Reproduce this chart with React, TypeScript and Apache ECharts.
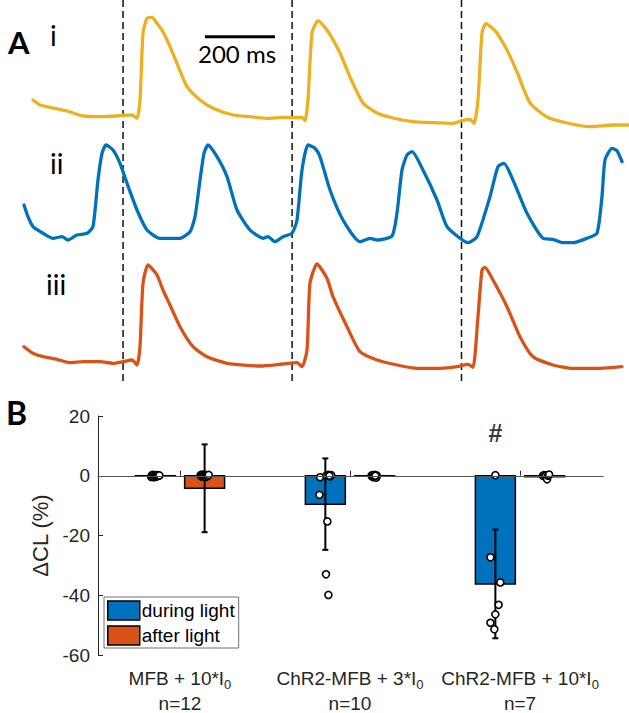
import React, { useEffect, useRef } from "react";
import * as echarts from "echarts";

// ---------- Panel A: optical traces (time in ms, amplitude in a.u.) ----------
const traceI: [number, number][] = [
  [25.7, 30], [45.7, 25], [74.3, 22.7], [122.9, 19], [168.6, 14], [217, 13.3], [265.7, 14],
  [282.9, 14.7], [308.6, 15], [322.9, 11.7], [331.4, 30], [340, 97], [351.4, 111.7],
  [365.7, 112.7], [380, 106.7], [397.1, 98.3], [417.1, 83.3], [437.1, 66.7], [465.7, 43.3],
  [502.9, 30], [540, 21.7], [597.1, 15], [645.7, 13.3], [694.3, 11.7], [740, 12.7],
  [765.7, 12.3], [794.3, 12.7], [802.9, 9.3], [811.4, 30], [822.9, 97], [840, 109.3],
  [865.7, 100], [902.9, 77], [931.4, 53], [968.6, 27], [1008.6, 17], [1054.3, 12],
  [1111.4, 8.3], [1168.6, 7.3], [1225.7, 6.7], [1251.4, 9.3], [1274.3, 10.7], [1285.7, 6.7],
  [1297.1, 30], [1308.6, 97], [1320, 106.7], [1337.1, 102], [1351.4, 97], [1380, 80],
  [1408.6, 58], [1445.7, 27], [1494.3, 13], [1551.4, 7], [1617.1, 3.3], [1682.9, 5], [1725.7, 5],
];

const traceII: [number, number][] = [
  [0, 55], [11.4, 43.3], [25.7, 33.3], [54.3, 26.7], [82.9, 21.7], [108.6, 23.3], [125.7, 20],
  [151.4, 25], [180, 26.7], [197.1, 33.3], [211.4, 80], [222.9, 106.7], [234.3, 115],
  [254.3, 110], [274.3, 96.7], [294.3, 76.7], [322.9, 50], [351.4, 30], [388.6, 21.7],
  [445.7, 21.7], [474.3, 28.3], [488.6, 43.3], [502.9, 80], [514.3, 106.7], [525.7, 115],
  [551.4, 103.3], [580, 83.3], [608.6, 50], [645.7, 30], [682.9, 21.7], [697.1, 23.3],
  [717.1, 18.3], [740, 23.3], [765.7, 26.7], [780, 40], [794.3, 90], [811.4, 115],
  [831.4, 111.7], [845.7, 103.3], [874.3, 70], [911.4, 40], [960, 18.3], [988.6, 21.7],
  [1008.6, 20], [1051.4, 24], [1065.7, 47], [1080, 90], [1094.3, 105], [1108.6, 108.3],
  [1140, 90], [1180, 60], [1208.6, 33.3], [1245.7, 21.7], [1268.6, 17.3], [1294.3, 23.3],
  [1331.4, 63.3], [1354.3, 93.3], [1371.4, 96.7], [1397.1, 80], [1437.1, 46.7],
  [1482.9, 21.7], [1511.4, 20.7], [1540, 17.3], [1568.6, 17.3], [1608.6, 21.7],
  [1637.1, 26.7], [1651.4, 63.3], [1660, 100], [1680, 111.7], [1694.3, 109.3], [1708.6, 98.3],
];

const traceIII: [number, number][] = [
  [0, 43.3], [25.7, 36.7], [54.3, 33.3], [94.3, 30.7], [131.4, 27.3], [168.6, 28.3],
  [217.1, 28.3], [254.3, 26.7], [282.9, 28.3], [308.6, 30], [322.9, 25], [331.4, 43.3],
  [340, 106.7], [354.3, 125], [380, 115], [397.1, 100], [417.1, 85], [445.7, 63.3],
  [482.9, 43.3], [522.9, 33.3], [580, 26.7], [674.3, 24], [740, 26], [780, 27.3],
  [794.3, 23.3], [808.6, 40], [817.1, 106.7], [837.1, 126], [865.7, 111.7], [882.9, 93.3],
  [922.9, 63.3], [960, 38.3], [1008.6, 30], [1065.7, 25], [1122.9, 21.7], [1188.6, 21.7],
  [1237.1, 23.3], [1268.6, 25.7], [1282.9, 22.7], [1297.1, 73.3], [1308.6, 120],
  [1317.1, 122.7], [1340, 110], [1380, 83.3], [1417.1, 53.3], [1454.3, 33.3], [1511.4, 25],
  [1568.6, 21.7], [1645.7, 21.7], [1708.6, 23.3],
];

const stimTimes = [283, 766, 1250];
const scaleBar: [number, number][] = [[517, 93.3], [717, 93.3]];
const T_MAX = 1728.6;

// ---------- Panel B: ΔCL (%) ----------
const groupLabels = ["MFB + 10*I", "ChR2-MFB + 3*I", "ChR2-MFB + 10*I"];
const groupN = ["n=12", "n=10", "n=7"];
const duringMean = [-0.2, -9.5, -36.2];
const duringSD = [0.6, 15.3, 18.2];
const afterMean = [-4.2, -0.2, -0.3];
const afterSD = [14.7, 0.4, 0.5];

const duringJx = [
  [-0.024, -0.02, -0.016, -0.012, -0.008, -0.004, 0, 0.004, 0.008, 0.012, 0.018, 0.024],
  [-0.031, 0.006, 0.018, 0.029, 0.035, 0.024, -0.035, 0.012, 0.004, 0.018],
  [0, -0.029, 0.029, 0.019, 0, -0.029, -0.006],
];
const duringPts = [
  [-0.4, 0.2, -0.1, 0.3, -0.5, 0, 0.1, -0.3, 0.2, -0.2, 0, 0.1],
  [-0.5, 0.1, 0.3, -0.2, 0.2, 0, -6.4, -15.3, -33, -39.9],
  [0.2, -27.3, -35.7, -43.2, -46.4, -49.2, -51.4],
];
const afterJx = [
  [-0.024, -0.018, -0.014, -0.01, -0.006, -0.002, 0.002, 0.006, 0.01, 0.014, 0.018, 0.024],
  [-0.018, -0.014, -0.01, -0.006, -0.002, 0.002, 0.006, 0.01, 0.012, 0.004],
  [-0.01, -0.004, 0.002, 0.008, 0.014, 0.02, 0.026],
];
const afterPts = [
  [0.2, -0.3, 0.4, 0, -0.2, 0.3, 0.1, -0.4, 0.2, 0, -0.1, 0.3],
  [0.1, -0.3, 0.2, -0.5, 0, 0.3, -0.2, -0.6, 0.1, 0],
  [0, 0.2, -0.3, 0.1, -1.2, 0, 0.4],
];
const hashMark = { group: 3, value: 14.4, text: "#" };

const BLUE = "#0072BD";
const ORANGE = "#D95319";
const YELLOW = "#EDB120";
const AX = "#262626";
const OFF = 0.145;
const BAR_W = 0.235;
const FONT_B = "'Liberation Sans', Arial, sans-serif";
const FONT_A = "Lato, 'Open Sans', sans-serif";

function barSeries(name: string, color: string, means: number[], side: number) {
  return {
    type: "custom",
    name,
    xAxisIndex: 4,
    yAxisIndex: 4,
    itemStyle: { color, borderColor: "#000", borderWidth: 1.5 },
    data: means.map((m, i) => [i + 1 + side * OFF, m]),
    renderItem: (_p: any, api: any) => {
      const x = api.value(0);
      const v = api.value(1);
      const a = api.coord([x - BAR_W / 2, 0]);
      const b = api.coord([x + BAR_W / 2, v]);
      return {
        type: "rect",
        shape: {
          x: a[0],
          y: Math.min(a[1], b[1]),
          width: b[0] - a[0],
          height: Math.max(Math.abs(b[1] - a[1]), 0.01),
        },
        style: { fill: color, stroke: "#000", lineWidth: 1.5 },
      };
    },
  };
}

export default function App() {
  const ref = useRef<HTMLDivElement>(null);
  useEffect(() => {
    if (!ref.current) return;
    const chart = echarts.init(ref.current, undefined, { renderer: "svg" });

    const errData: number[][] = [];
    duringMean.forEach((m, i) => errData.push([i + 1 - OFF, m, duringSD[i]]));
    afterMean.forEach((m, i) => errData.push([i + 1 + OFF, m, afterSD[i]]));

    const ptData: number[][] = [];
    duringPts.forEach((arr, g) =>
      arr.forEach((v, k) => ptData.push([g + 1 - OFF + duringJx[g][k], v]))
    );
    afterPts.forEach((arr, g) =>
      arr.forEach((v, k) => ptData.push([g + 1 + OFF + afterJx[g][k], v]))
    );

    const traceGrid = (top: number, height: number) => ({
      left: 24,
      top,
      width: 605,
      height,
      containLabel: false,
    });
    const hiddenX = (gi: number) => ({
      type: "value",
      gridIndex: gi,
      min: 0,
      max: T_MAX,
      show: false,
    });
    const hiddenY = (gi: number, max: number) => ({
      type: "value",
      gridIndex: gi,
      min: 0,
      max,
      show: false,
    });
    const traceLine = (data: [number, number][], color: string, idx: number) => ({
      type: "line",
      xAxisIndex: idx,
      yAxisIndex: idx,
      data,
      showSymbol: false,
      symbol: "none",
      smooth: 0.2,
      lineStyle: { color, width: 3.3, cap: "round", join: "round" },
      silent: true,
    });

    const option: any = {
      animation: false,
      backgroundColor: "#fff",
      grid: [
        traceGrid(0, 130),
        traceGrid(130, 130),
        traceGrid(260, 130),
        traceGrid(0, 385),
        { left: 98, top: 416, width: 505, height: 240, containLabel: false },
      ],
      xAxis: [
        hiddenX(0),
        hiddenX(1),
        hiddenX(2),
        hiddenX(3),
        {
          type: "value",
          gridIndex: 4,
          min: 0.518,
          max: 3.488,
          axisLine: { show: true, lineStyle: { color: AX, width: 1 } },
          axisTick: {
            show: true,
            inside: true,
            length: 5,
            customValues: [1, 2, 3],
            lineStyle: { color: AX },
          },
          splitLine: { show: false },
          axisLabel: {
            show: true,
            customValues: [1, 2, 3],
            margin: 11,
            formatter: (v: number) => {
              const i = Math.round(v) - 1;
              return `{a|${groupLabels[i]}}{s|0}\n{n|${groupN[i]}}`;
            },
            rich: {
              a: { fontSize: 19, fontFamily: FONT_B, color: AX, lineHeight: 25 },
              s: { fontSize: 13, fontFamily: FONT_B, color: AX, verticalAlign: "bottom" },
              n: { fontSize: 19, fontFamily: FONT_B, color: AX, lineHeight: 25 },
            },
          },
        },
      ],
      yAxis: [
        hiddenY(0, 130),
        hiddenY(1, 130),
        hiddenY(2, 130),
        hiddenY(3, 1),
        {
          type: "value",
          gridIndex: 4,
          min: -60,
          max: 20,
          interval: 20,
          axisLine: { show: true, lineStyle: { color: AX, width: 1 } },
          axisTick: { show: true, inside: true, length: 5, lineStyle: { color: AX } },
          splitLine: { show: false },
          axisLabel: { fontSize: 19, fontFamily: FONT_B, color: AX, margin: 8 },
          name: "ΔCL (%)",
          nameLocation: "middle",
          nameGap: 42,
          nameTextStyle: { fontSize: 22, fontFamily: FONT_B, color: AX },
        },
      ],
      legend: {
        show: true,
        orient: "vertical",
        left: 104,
        top: 597,
        data: [
          { name: "during light", icon: "rect" },
          { name: "after light", icon: "rect" },
        ],
        itemWidth: 32,
        itemHeight: 19,
        itemGap: 4,
        padding: [3, 4, 2, 3],
        borderColor: "#707070",
        borderWidth: 1,
        backgroundColor: "#fff",
        itemStyle: { borderColor: "#000", borderWidth: 1.5 },
        textStyle: { fontSize: 19, fontFamily: FONT_B, color: "#000", lineHeight: 21, padding: [0, 0, 0, -3] },
        selectedMode: false,
      },
      series: [
        traceLine(traceI, YELLOW, 0),
        {
          type: "line",
          xAxisIndex: 0,
          yAxisIndex: 0,
          data: scaleBar,
          symbol: "none",
          lineStyle: { color: "#000", width: 3 },
          silent: true,
        },
        traceLine(traceII, BLUE, 1),
        traceLine(traceIII, ORANGE, 2),
        {
          type: "custom",
          xAxisIndex: 3,
          yAxisIndex: 3,
          data: stimTimes.map((t) => [t]),
          silent: true,
          renderItem: (_p: any, api: any) => {
            const t = api.value(0);
            const a = api.coord([t, 1]);
            const b = api.coord([t, 0]);
            return {
              type: "line",
              shape: { x1: a[0], y1: a[1], x2: b[0], y2: b[1] },
              style: { stroke: "#111", lineWidth: 1.5, lineDash: [7, 4] },
            };
          },
        },
        barSeries("during light", BLUE, duringMean, -1),
        barSeries("after light", ORANGE, afterMean, 1),
        {
          type: "custom",
          xAxisIndex: 4,
          yAxisIndex: 4,
          data: errData,
          silent: true,
          renderItem: (_p: any, api: any) => {
            const x = api.value(0);
            const m = api.value(1);
            const s = api.value(2);
            const top = api.coord([x, m + s]);
            const bot = api.coord([x, m - s]);
            const cw = 3;
            const st = { stroke: "#000", lineWidth: 2 };
            return {
              type: "group",
              children: [
                { type: "line", shape: { x1: top[0], y1: top[1], x2: bot[0], y2: bot[1] }, style: st },
                { type: "line", shape: { x1: top[0] - cw, y1: top[1], x2: top[0] + cw, y2: top[1] }, style: st },
                { type: "line", shape: { x1: bot[0] - cw, y1: bot[1], x2: bot[0] + cw, y2: bot[1] }, style: st },
              ],
            };
          },
          markLine: {
            silent: true,
            symbol: ["none", "none"],
            label: { show: false },
            lineStyle: { color: "#555", width: 1, type: "solid" },
            data: [{ yAxis: 0 }],
          },
        },
        {
          type: "scatter",
          xAxisIndex: 4,
          yAxisIndex: 4,
          data: ptData,
          symbol: "circle",
          symbolSize: 7,
          itemStyle: { color: "#fff", borderColor: "#000", borderWidth: 1.6, opacity: 1 },
          silent: true,
        },
        {
          type: "scatter",
          xAxisIndex: 4,
          yAxisIndex: 4,
          data: [[hashMark.group - OFF, hashMark.value]],
          symbolSize: 1,
          itemStyle: { color: "transparent" },
          label: {
            show: true,
            position: "inside",
            formatter: hashMark.text,
            fontSize: 25,
            fontWeight: "bold",
            fontFamily: FONT_B,
            color: "#000",
          },
          silent: true,
        },
      ],
      graphic: [
        { type: "text", x: 8, y: 42, style: { text: "A", fontSize: 31, fontWeight: "bold", fontFamily: FONT_A, fill: "#000", align: "left", verticalAlign: "middle" } },
        { type: "text", x: 50, y: 35, style: { text: "i", fontSize: 28, fontFamily: FONT_A, fill: "#000", align: "left", verticalAlign: "middle" } },
        { type: "text", x: 50, y: 163, style: { text: "ii", fontSize: 28, fontFamily: FONT_A, fill: "#000", align: "left", verticalAlign: "middle" } },
        { type: "text", x: 46, y: 284, style: { text: "iii", fontSize: 28, fontFamily: FONT_A, fill: "#000", align: "left", verticalAlign: "middle" } },
        { type: "text", x: 237, y: 53, style: { text: "200 ms", fontSize: 24, fontFamily: FONT_A, fill: "#000", align: "center", verticalAlign: "middle" } },
        { type: "text", x: 6, y: 412, style: { text: "B", fontSize: 32, fontWeight: "bold", fontFamily: FONT_A, fill: "#000", align: "left", verticalAlign: "middle" } },
      ],
    };

    chart.setOption(option);
    return () => chart.dispose();
  }, []);

  return (
    <div
      ref={ref}
      style={{ position: "fixed", left: 0, top: 0, width: 629, height: 713, background: "#fff" }}
    />
  );
}
